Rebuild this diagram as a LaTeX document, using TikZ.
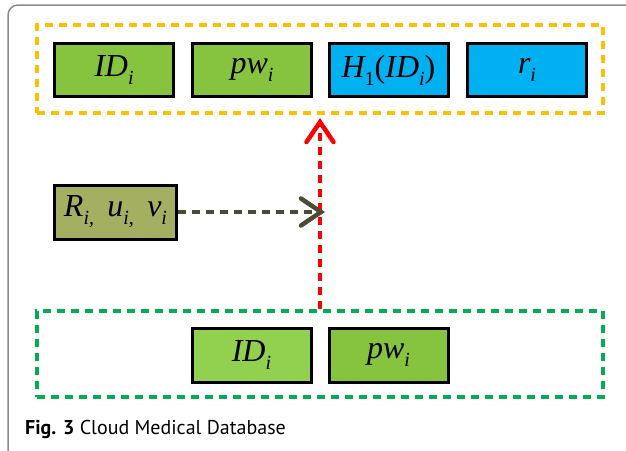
\documentclass[tikz,border=0pt]{standalone}
\usepackage{fontspec}
\setmainfont{Liberation Serif}
\newfontfamily\capfont{PT Sans}
\usetikzlibrary{arrows.meta}
\definecolor{cellgreen}{HTML}{86C440}
\definecolor{cellgreenlight}{HTML}{92D050}
\definecolor{cellblue}{HTML}{00B0F0}
\definecolor{cellolive}{HTML}{A5AF62}
\definecolor{grporange}{HTML}{FFC000}
\definecolor{grpgreen}{HTML}{00B050}
\definecolor{arrred}{HTML}{FF0000}
\definecolor{arrdark}{HTML}{4B4A35}
\definecolor{framegray}{HTML}{8C8C8C}
\newcommand{\sbs}[1]{\raisebox{-8pt}{\fontsize{20}{20}\selectfont #1}}
\tikzset{
  cell/.style={draw=black, line width=3pt, minimum width=119pt, minimum height=53pt,
    inner sep=0pt, font=\fontsize{32}{32}\selectfont\itshape},
  grp/.style={dash pattern=on 8pt off 6pt, line width=4pt, minimum width=566pt,
    inner sep=0pt},
  flow/.style={dash pattern=on 8pt off 6pt, line width=4.5pt,
    -{Straight Barb[length=20pt,width=27pt,line cap=round]}},
}
\begin{document}
\begin{tikzpicture}[x=1pt,y=-1pt]
\useasboundingbox (0,0) rectangle (626,450);
\clip (0,0) rectangle (626,450);
\draw[framegray, line width=1.5pt, rounded corners=10pt] (8,480) -- (8,5) -- (660,5);

\node[grp, draw=grporange, minimum height=88pt] (top) at (320,69) {};
\node[grp, draw=grpgreen, minimum height=86pt] (bottom) at (320,354) {};

\node[cell, fill=cellgreen] (tid) at (114,70) {ID\sbs{i}};
\node[cell, fill=cellgreen] (tpw) at (252,70) {pw\sbs{i}};
\node[cell, fill=cellblue] (th) at (388.5,70) {H\sbs{\upshape 1}{\upshape(}ID\sbs{i}{\upshape)}};
\node[cell, fill=cellblue] (tr) at (527,70) {r\sbs{i}};

\node[cell, fill=cellgreenlight, minimum height=54pt] (bid) at (251.5,355) {ID\sbs{i}};
\node[cell, fill=cellgreen, minimum height=54pt] (bpw) at (388.5,355) {pw\sbs{i}};

\node[cell, fill=cellolive, minimum width=122pt, minimum height=54pt] (ruv) at (115.5,212)
  {R\sbs{i,}\, u\sbs{i,}\, v\sbs{i}};

\draw[flow, arrred, shorten >=3pt] (bottom.north) -- (top.south);
\coordinate (meet) at (325,212);
\draw[flow, arrdark] (ruv.east) -- (meet);

\node[anchor=base west, inner sep=0pt, font=\capfont\fontsize{20}{20}\selectfont] (cap) at (25,434)
  {\textbf{Fig. 3} Cloud Medical Database};
\end{tikzpicture}
\end{document}
